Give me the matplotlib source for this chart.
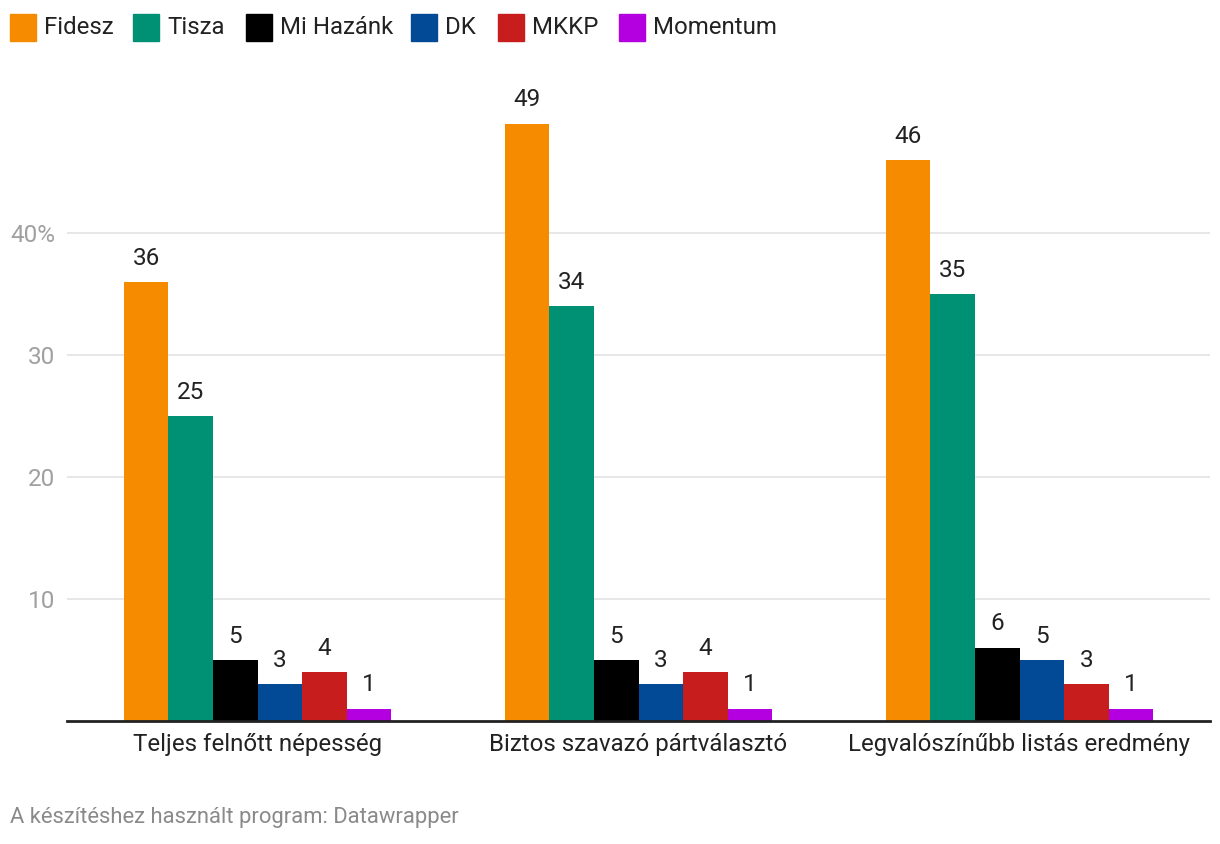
import matplotlib.pyplot as plt
from matplotlib.patches import Rectangle
import numpy as np

plt.rcParams['font.family'] = ['Roboto', 'DejaVu Sans']

groups = ['Teljes felnőtt népesség', 'Biztos szavazó pártválasztó', 'Legvalószínűbb listás eredmény']
parties = ['Fidesz', 'Tisza', 'Mi Hazánk', 'DK', 'MKKP', 'Momentum']
colors = ['#F68B00', '#009175', '#000000', '#034A96', '#C71E1D', '#B400E0']
fidesz = [36, 49, 46]
tisza = [25, 34, 35]
mi_hazank = [5, 5, 6]
dk = [3, 3, 5]
mkkp = [4, 4, 3]
momentum = [1, 1, 1]
series = [fidesz, tisza, mi_hazank, dk, mkkp, momentum]
yticks = [10, 20, 30, 40]
ytick_labels = ['10', '20', '30', '40%']

fig = plt.figure(figsize=(12.2, 8.44), dpi=100)
ax = fig.add_axes([67/1220, 123/844, (1210-67)/1220, (721-87)/844])

x = np.arange(len(groups))
w = 0.117
for i, (vals, c) in enumerate(zip(series, colors)):
    pos = x + (i - 2.5) * w
    ax.bar(pos, vals, width=w, color=c, zorder=3)
    for p, v in zip(pos, vals):
        ax.annotate(str(v), (p, v), xytext=(0, 9), textcoords='offset points',
                    ha='center', va='bottom', fontsize=17.5, color='#222222')

ax.set_xlim(-0.5, 2.5)
ax.set_ylim(0, 52)
ax.set_yticks(yticks)
ax.set_yticklabels(ytick_labels)
ax.yaxis.grid(True, color='#e3e3e3', linewidth=1.2, zorder=0)
ax.set_xticks(x)
ax.set_xticklabels(groups, fontsize=17.3, color='#222222')
ax.tick_params(axis='x', length=0, pad=9)
ax.tick_params(axis='y', length=0, pad=8.5, labelsize=17.5, labelcolor='#a0a0a0')
for s in ['top', 'right', 'left']:
    ax.spines[s].set_visible(False)
ax.spines['bottom'].set_color('#222222')
ax.spines['bottom'].set_linewidth(2)
ax.spines['bottom'].set_zorder(4)

# legend drawn by hand
leg_x = [10, 133, 246, 411, 498, 619]
for lx, name, c in zip(leg_x, parties, colors):
    fig.patches.append(Rectangle((lx/1220, 1 - 41/844), 26/1220, 27/844,
                                 transform=fig.transFigure, color=c))
    fig.text((lx + 34)/1220, 1 - 27/844, name, fontsize=17.3, color='#222222',
             va='center', ha='left')

fig.text(10/1220, 1 - 818/844, 'A készítéshez használt program: Datawrapper',
         fontsize=15.8, color='#8a8a8a', va='center', ha='left')

fig.savefig('out.png', dpi=100)
